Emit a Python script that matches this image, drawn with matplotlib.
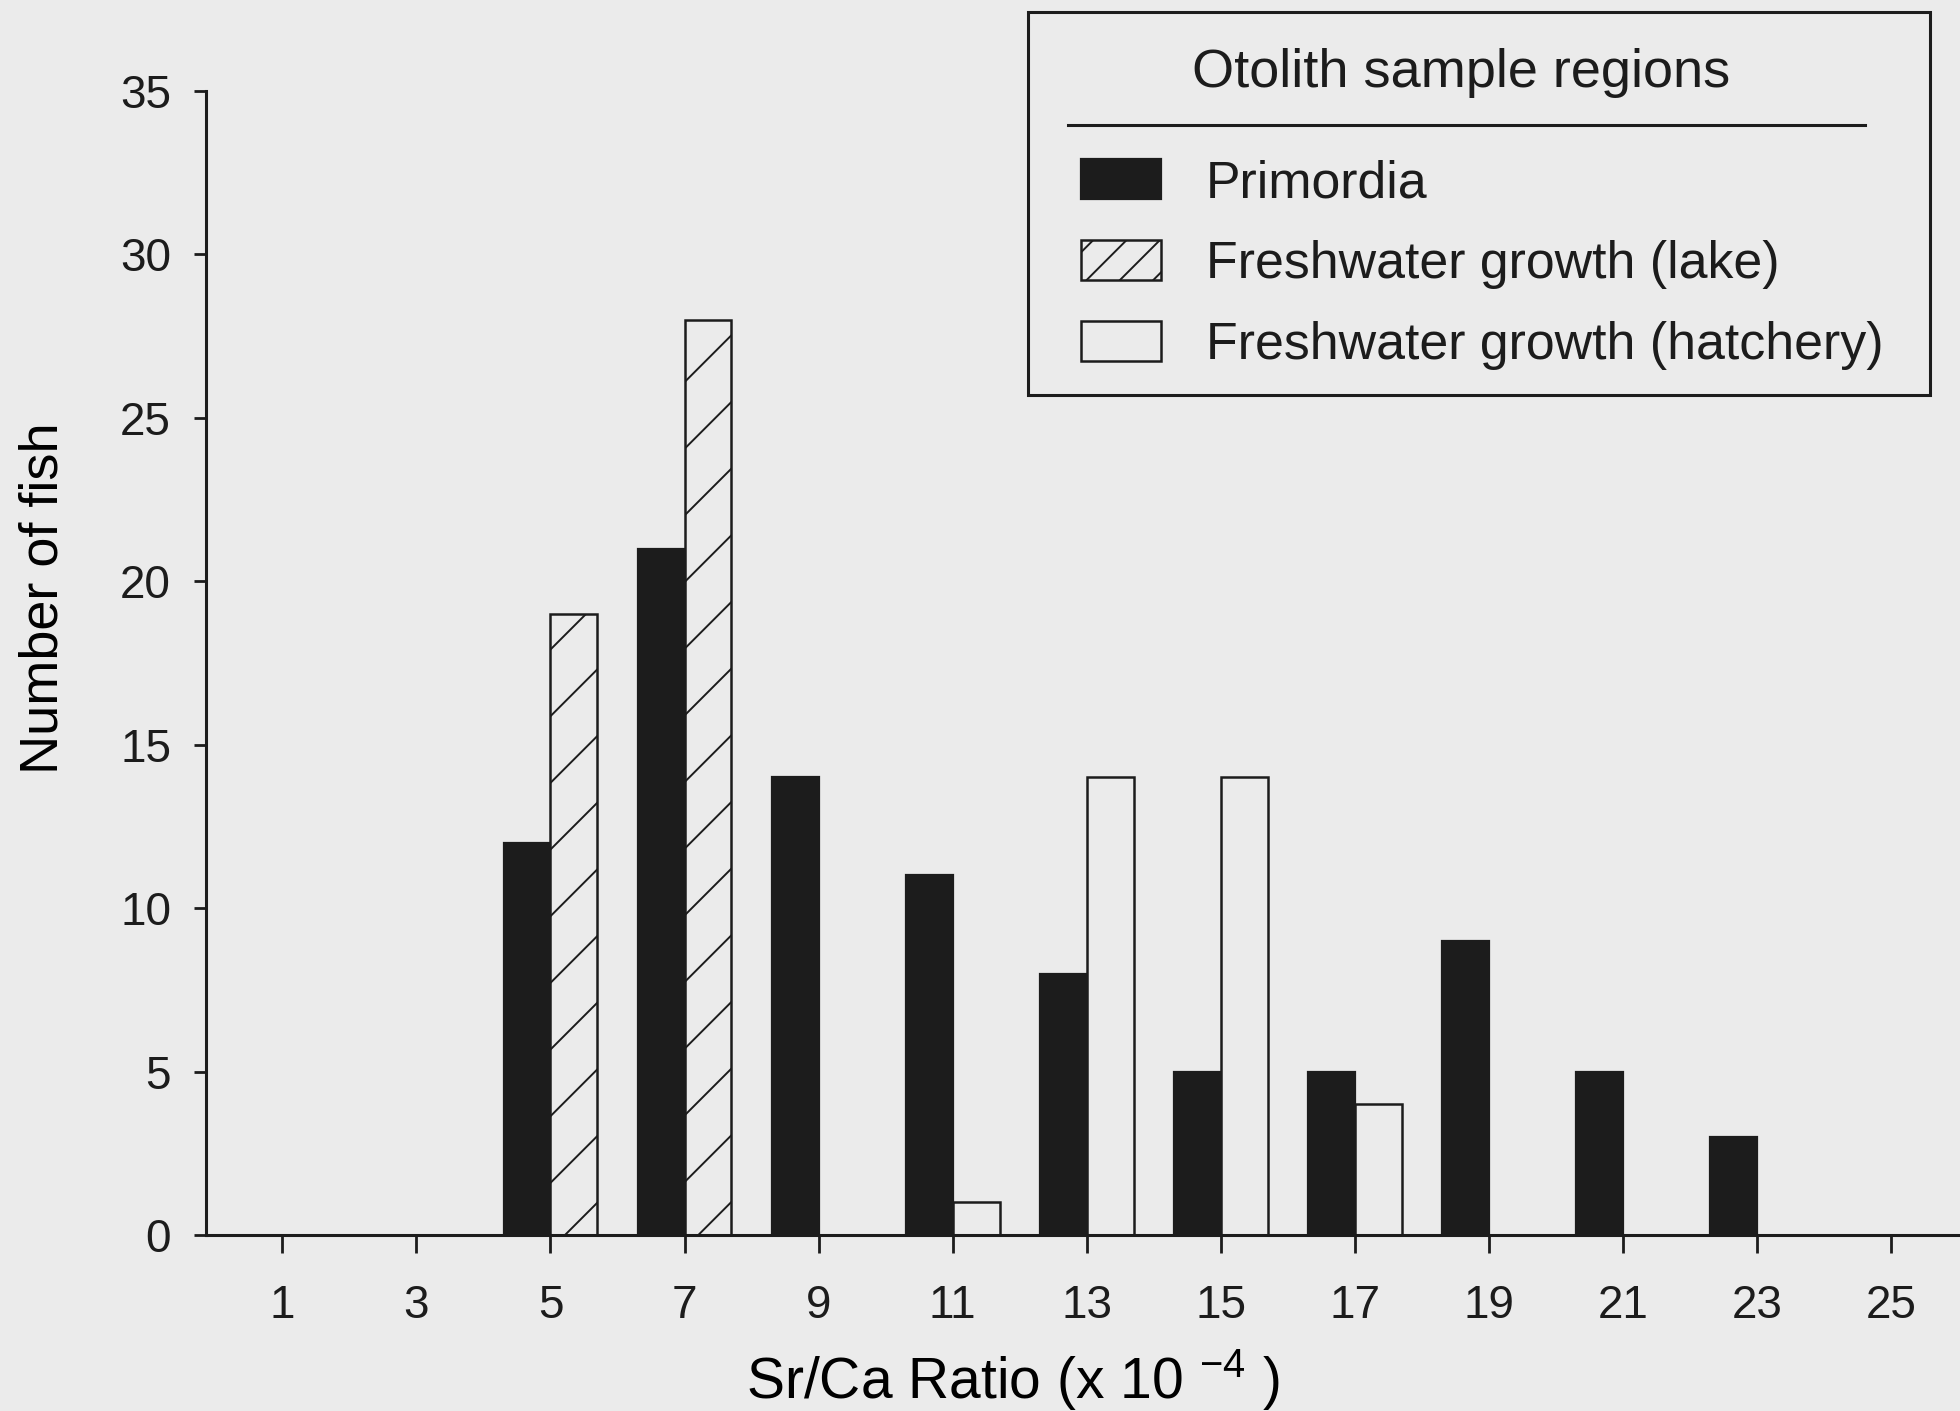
import matplotlib
matplotlib.use("Agg")
import numpy as np
from matplotlib import pyplot as plt
from matplotlib.lines import Line2D
from matplotlib.patches import Patch, Rectangle

# data
ratio_bins = [1, 3, 5, 7, 9, 11, 13, 15, 17, 19, 21, 23, 25]
primordia = [0, 0, 12, 21, 14, 11, 8, 5, 5, 9, 5, 3, 0]
lake = [0, 0, 19, 28, 0, 0, 0, 0, 0, 0, 0, 0, 0]
hatchery = [0, 0, 0, 0, 0, 1, 14, 14, 4, 0, 0, 0, 0]
y_ticks = [0, 5, 10, 15, 20, 25, 30, 35]
series_labels = ['Primordia', 'Freshwater growth (lake)', 'Freshwater growth (hatchery)']
legend_title = 'Otolith sample regions'

W, H, DPI = 1960, 1411, 200
PAPER = '#ebebeb'
INK = '#1c1c1c'
BAR_W = 0.7

plt.rcParams['font.family'] = ['Liberation Sans', 'DejaVu Sans']
plt.rcParams['mathtext.fontset'] = 'custom'
plt.rcParams['mathtext.rm'] = 'Liberation Sans'
plt.rcParams['mathtext.default'] = 'regular'
plt.rcParams['hatch.linewidth'] = 0.7
plt.rcParams['text.color'] = INK


def fx(px):
    return px / W


def fy(py):
    return 1 - py / H


fig = plt.figure(figsize=(W / DPI, H / DPI), dpi=DPI, facecolor=PAPER)
ax = fig.add_axes([fx(206), fy(1235), 1 - fx(206), (1235 - 91) / H])
ax.set_facecolor('none')

x = np.array(ratio_bins, dtype=float)
p = np.array(primordia, dtype=float)
lk = np.array(lake, dtype=float)
ht = np.array(hatchery, dtype=float)

ax.bar(x[p > 0] - BAR_W / 2, p[p > 0], width=BAR_W, color=INK, edgecolor=INK, linewidth=0.8)
ax.bar(x[lk > 0] + BAR_W / 2, lk[lk > 0], width=BAR_W, facecolor=PAPER, edgecolor=INK,
       hatch='/', linewidth=0.9)
ax.bar(x[ht > 0] + BAR_W / 2, ht[ht > 0], width=BAR_W, facecolor=PAPER, edgecolor=INK,
       linewidth=0.9)

ax.set_xlim(-0.14, 26.03)
ax.set_ylim(0, 35)
ax.set_xticks(ratio_bins)
ax.set_yticks(y_ticks)
for side in ['top', 'right']:
    ax.spines[side].set_visible(False)
for side in ['left', 'bottom']:
    ax.spines[side].set_linewidth(1.1)
    ax.spines[side].set_color(INK)
ax.tick_params(axis='x', direction='out', length=6.5, width=1.0, pad=11, labelsize=16.5, colors=INK)
ax.tick_params(axis='y', direction='out', length=4.3, width=1.0, pad=8.3, labelsize=16.5, colors=INK)

ax.set_ylabel('Number of fish', fontsize=19.5)
ax.yaxis.set_label_coords(-0.0784, 0.557)
ax.set_xlabel(r'Sr/Ca Ratio (x 10 $^{-4}$ )', fontsize=20.5)
ax.xaxis.set_label_coords(0.46, -0.0975)

# legend: framed box with a ruled title, entries from proxy patches
fig.add_artist(Rectangle((fx(1028), fy(395)), fx(1930) - fx(1028), (395 - 12) / H,
                         transform=fig.transFigure, fill=False, edgecolor=INK, linewidth=1.1))
fig.text(fx(1461), fy(87), legend_title, ha='center', va='baseline', fontsize=19.5)
fig.add_artist(Line2D([fx(1068), fx(1865)], [fy(125), fy(125)], transform=fig.transFigure,
                      color=INK, linewidth=1.1))
handles = [
    Patch(facecolor=INK, edgecolor=INK, linewidth=0.8),
    Patch(facecolor=PAPER, edgecolor=INK, hatch='//', linewidth=0.9),
    Patch(facecolor=PAPER, edgecolor=INK, linewidth=0.9),
]
fig.legend(handles, series_labels, loc='upper left', bbox_to_anchor=(fx(1081), fy(159)),
           frameon=False, fontsize=18.7, handlelength=1.54, handleheight=0.81,
           handletextpad=0.87, labelspacing=0.61, borderpad=0, borderaxespad=0)

fig.savefig('out.png', dpi=DPI, facecolor=PAPER)
